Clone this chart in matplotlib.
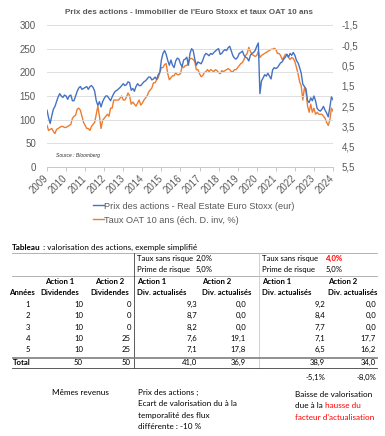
import numpy as np
import matplotlib.pyplot as plt

# ============================================================
# Données du graphique (mensuel, janv. 2009 -> janv. 2024)
# ============================================================
prix_immo = [
    120, 104, 92, 108, 122, 128, 138, 148, 155, 150, 147, 152,   # 2009
    150, 143, 150, 152, 140, 140, 150, 160, 167, 170, 164, 166,  # 2010
    168, 170, 164, 170, 172, 168, 160, 140, 130, 138, 127, 138,  # 2011
    145, 150, 150, 145, 140, 148, 155, 160, 162, 165, 168, 172,  # 2012
    176, 172, 174, 180, 178, 162, 166, 160, 170, 176, 172, 172,  # 2013
    176, 180, 182, 186, 190, 190, 184, 186, 190, 185, 195, 200,  # 2014
    226, 240, 246, 238, 225, 215, 226, 215, 210, 224, 230, 228,  # 2015
    218, 212, 226, 228, 232, 215, 240, 250, 246, 228, 215, 222,  # 2016
    220, 218, 225, 235, 240, 238, 235, 240, 238, 242, 245, 248,  # 2017
    250, 238, 240, 245, 248, 246, 252, 255, 245, 235, 230, 228,  # 2018
    232, 240, 242, 245, 236, 232, 230, 224, 236, 240, 242, 246,  # 2019
    255, 262, 155, 182, 188, 195, 192, 198, 192, 186, 205, 210,  # 2020
    208, 210, 215, 220, 222, 228, 232, 238, 232, 240, 236, 242,  # 2021
    236, 225, 220, 210, 198, 175, 170, 165, 140, 136, 146, 140,  # 2022
    150, 140, 124, 120, 118, 122, 128, 120, 114, 106, 126, 148,  # 2023
    142,                                                         # 2024
]
oat_10 = [
    3.45, 3.7, 3.65, 3.6, 3.75, 3.85, 3.65, 3.6, 3.55, 3.5, 3.5, 3.55,
    3.55, 3.5, 3.45, 3.4, 3.1, 3.0, 2.95, 2.65, 2.6, 2.7, 3.0, 3.3,
    3.45, 3.6, 3.6, 3.7, 3.5, 3.4, 3.3, 2.9, 2.5, 3.0, 3.6, 3.2,
    3.1, 3.0, 2.9, 3.0, 2.6, 2.6, 2.2, 2.2, 2.2, 2.2, 2.1, 2.0,
    2.2, 2.2, 2.05, 1.85, 2.0, 2.4, 2.3, 2.4, 2.5, 2.35, 2.2, 2.45,
    2.35, 2.2, 2.1, 2.0, 1.8, 1.7, 1.6, 1.35, 1.35, 1.2, 1.1, 0.85,
    0.6, 0.6, 0.45, 0.4, 0.9, 1.2, 1.1, 1.0, 1.0, 0.85, 0.95, 0.95,
    0.9, 0.55, 0.6, 0.5, 0.5, 0.35, 0.15, 0.15, 0.2, 0.3, 0.7, 0.7,
    0.9, 1.05, 1.0, 0.85, 0.8, 0.7, 0.8, 0.7, 0.75, 0.8, 0.7, 0.75,
    0.85, 0.9, 0.75, 0.8, 0.75, 0.7, 0.65, 0.7, 0.8, 0.8, 0.7, 0.7,
    0.6, 0.5, 0.4, 0.35, 0.2, 0.0, -0.1, -0.4, -0.2, -0.05, 0.0, 0.05,
    0.0, -0.2, 0.1, 0.0, -0.05, -0.1, -0.15, -0.2, -0.25, -0.3, -0.3, -0.35,
    -0.3, -0.1, -0.1, 0.0, 0.2, 0.1, -0.05, -0.05, 0.1, 0.2, 0.1, 0.15,
    0.3, 0.6, 0.9, 1.3, 1.5, 2.2, 1.6, 1.8, 2.5, 2.8, 2.4, 2.8,
    2.6, 2.9, 2.8, 2.9, 2.9, 2.9, 3.0, 3.1, 3.3, 3.45, 3.2, 2.6,
    2.75,
]
annees_axe = list(range(2009, 2025))
ticks_gauche = [0, 50, 100, 150, 200, 250, 300]
ticks_droite = [-1.5, -0.5, 0.5, 1.5, 2.5, 3.5, 4.5, 5.5]

# ============================================================
# Données du tableau
# ============================================================
annees = [1, 2, 3, 4, 5]
div_action1 = [10, 10, 10, 10, 10]
div_action2 = [0, 0, 0, 25, 25]
act1_taux2 = [9.3, 8.7, 8.2, 7.6, 7.1]
act2_taux2 = [0.0, 0.0, 0.0, 19.1, 17.8]
act1_taux4 = [9.2, 8.4, 7.7, 7.1, 6.5]
act2_taux4 = [0.0, 0.0, 0.0, 17.7, 16.2]
totaux = [50, 50, 41.0, 36.9, 38.9, 34.0]
variations = [-5.1, -8.0]
taux_sans_risque = [2.0, 4.0]
prime_risque = [5.0, 5.0]

BLEU = '#4472C4'
ORANGE = '#ED7D31'
GRIS = '#595959'
ROUGE = '#FF0000'


def fr(v, d=1):
    return f"{v:.{d}f}".replace('.', ',')


W, H = 385, 436
fig = plt.figure(figsize=(W / 100, H / 100), dpi=100)

# ============================================================
# Graphique
# ============================================================
ax = fig.add_axes([47 / W, 1 - 167 / H, 286 / W, 142 / H])
dates = 2009 + np.arange(len(prix_immo)) / 12
ax2 = ax.twinx()
l1, = ax.plot(dates, prix_immo, color=BLEU, lw=1.0, zorder=3)
l2, = ax2.plot(dates, oat_10, color=ORANGE, lw=1.0)
ax.set_zorder(ax2.get_zorder() + 1)
ax.patch.set_visible(False)

ax.set_xlim(2009, 2024)
ax.set_ylim(0, 300)
ax2.set_ylim(5.5, -1.5)
ax.set_yticks(ticks_gauche)
ax2.set_yticks(ticks_droite)
ax2.set_yticklabels([fr(t) for t in ticks_droite])
ax.set_xticks(annees_axe)
ax.set_xticklabels([str(a) for a in annees_axe], rotation=45, ha='right',
                   rotation_mode='anchor', va='center')
ax.grid(axis='y', color='#D9D9D9', lw=0.6)
ax.set_axisbelow(True)
for a in (ax, ax2):
    for s in ('top', 'left', 'right', 'bottom'):
        a.spines[s].set_visible(False)
ax.spines['bottom'].set_visible(True)
ax.spines['bottom'].set_color('#BFBFBF')
ax.spines['bottom'].set_linewidth(0.6)
ax.tick_params(axis='y', length=0, pad=8, labelsize=7.0, labelcolor=GRIS)
ax2.tick_params(axis='y', length=0, pad=6, labelsize=7.0, labelcolor=GRIS)
ax.tick_params(axis='x', length=3, width=0.6, color='#BFBFBF', pad=4,
               labelsize=6.9, labelcolor=GRIS)
for lab in ax.get_yticklabels() + ax2.get_yticklabels() + ax.get_xticklabels():
    lab.set_family('Liberation Sans')

ax.text(0.03, 0.07, 'Source : Bloomberg', transform=ax.transAxes,
        fontsize=3.6, style='italic', color='#333333', family='Liberation Sans')
fig.text(189 / W, 1 - 12 / H,
         "Prix des actions - Immobilier de l'Euro Stoxx et taux OAT 10 ans",
         ha='center', va='center', fontsize=5.9, fontweight='bold',
         color=GRIS, family='Liberation Sans')
fig.legend([l1, l2],
           ['Prix des actions - Real Estate Euro Stoxx (eur)',
            'Taux OAT 10 ans (éch. D. inv, %)'],
           loc='upper left', bbox_to_anchor=(88 / W, 1 - 197 / H),
           frameon=False, handlelength=1.2, handletextpad=0.1,
           labelspacing=0.55, borderpad=0,
           prop={'family': 'Liberation Sans', 'size': 6.6},
           labelcolor=GRIS)

# ============================================================
# Tableau (repère en pixels)
# ============================================================
tab = fig.add_axes([0, 0, 1, 1])
tab.set_xlim(0, W)
tab.set_ylim(H, 0)
tab.axis('off')
FT = 'Lato'
FS = 5.6     # cellules
FS_N = 5.9   # titre et notes

# colonnes (bord droit des nombres)
x_div1, x_div2 = 83, 131
x_a1_2, x_a2_2 = 197, 246
x_a1_4, x_a2_4 = 325, 376
x_an = 28
x_g2, x_g3 = 137, 262
x_g2b, x_g3b = 202, 328

y_titre, y_taux, y_prime = 247, 258, 269
y_h1, y_h2 = 281, 292
y_lignes = [304, 315, 327, 338, 349]
y_total = 362
y_var = 377


def t(x, y, s, ha='left', bold=False, color='black', size=None):
    return tab.text(x, y, s, ha=ha, va='center', fontsize=size or FS,
                    family=FT, fontweight='bold' if bold else 'normal',
                    color=color)


def suite(txt_obj, s, color='black', bold=False):
    # place un texte juste après un autre sur la même ligne
    fig.canvas.draw()
    bb = txt_obj.get_window_extent()
    x = tab.transData.inverted().transform((bb.x1, bb.y0))[0]
    return t(x, txt_obj.get_position()[1], s, color=color, bold=bold,
             size=txt_obj.get_fontsize())


tt = t(12, y_titre, 'Tableau', bold=True, size=FS_N)
suite(tt, ' : valorisation des actions, exemple simplifié')

t(x_g2, y_taux, 'Taux sans risque')
t(196, y_taux, fr(taux_sans_risque[0]) + '%')
t(x_g2, y_prime, 'Prime de risque')
t(196, y_prime, fr(prime_risque[0]) + '%')
t(x_g3, y_taux, 'Taux sans risque')
t(326, y_taux, fr(taux_sans_risque[1]) + '%', bold=True, color=ROUGE)
t(x_g3, y_prime, 'Prime de risque')
t(326, y_prime, fr(prime_risque[1]) + '%')

t(60, y_h1, 'Action 1', ha='center', bold=True)
t(110, y_h1, 'Action 2', ha='center', bold=True)
t(22, y_h2, 'Années', ha='center', bold=True)
t(60, y_h2, 'Dividendes', ha='center', bold=True)
t(110, y_h2, 'Dividendes', ha='center', bold=True)
for xg in (x_g2, x_g2b, x_g3, x_g3b):
    t(xg, y_h1, 'Action 1' if xg in (x_g2, x_g3) else 'Action 2', bold=True)
    t(xg, y_h2, 'Div. actualisés', bold=True)

for i, y in enumerate(y_lignes):
    t(x_an, y, str(annees[i]), ha='center')
    t(x_div1, y, str(div_action1[i]), ha='right')
    t(x_div2, y, str(div_action2[i]), ha='right')
    t(x_a1_2, y, fr(act1_taux2[i]), ha='right')
    t(x_a2_2, y, fr(act2_taux2[i]), ha='right')
    t(x_a1_4, y, fr(act1_taux4[i]), ha='right')
    t(x_a2_4, y, fr(act2_taux4[i]), ha='right')

t(13, y_total, 'Total', bold=True)
for xr, v in zip((x_div1, x_div2, x_a1_2, x_a2_2, x_a1_4, x_a2_4), totaux):
    t(xr, y_total, str(v) if isinstance(v, int) else fr(v), ha='right')
t(x_a1_4, y_var, fr(variations[0]) + '%', ha='right')
t(x_a2_4, y_var, fr(variations[1]) + '%', ha='right')

# traits
tab.plot([12, 377], [253, 253], color='#A6A6A6', lw=0.6)
tab.plot([12, 377], [275.5, 275.5], color='#A6A6A6', lw=0.6)
tab.plot([134, 134], [253, 368], color='#404040', lw=0.6)
tab.plot([259, 259], [253, 368], color='#BFBFBF', lw=0.5)
tab.plot([12, 377], [356.5, 356.5], color='#7F7F7F', lw=0.6)
tab.plot([12, 377], [358.3, 358.3], color='#7F7F7F', lw=0.6)
tab.plot([12, 377], [368, 368], color='#404040', lw=0.6)

# notes
t(52, 392, 'Mêmes revenus', size=FS_N)
for k, s in enumerate(['Prix des actions ;', 'Ecart de valorisation du à la',
                       'temporalité des flux', 'différente : -10 %']):
    t(138, 392 + 11.6 * k, s, size=FS_N)
t(295, 394, 'Baisse de valorisation', size=FS_N)
td = t(295, 405.6, 'due à la ', size=FS_N)
suite(td, 'hausse du', color=ROUGE)
t(295, 417.2, "facteur d'actualisation", color=ROUGE, size=FS_N)

fig.savefig('out.png', dpi=100)
